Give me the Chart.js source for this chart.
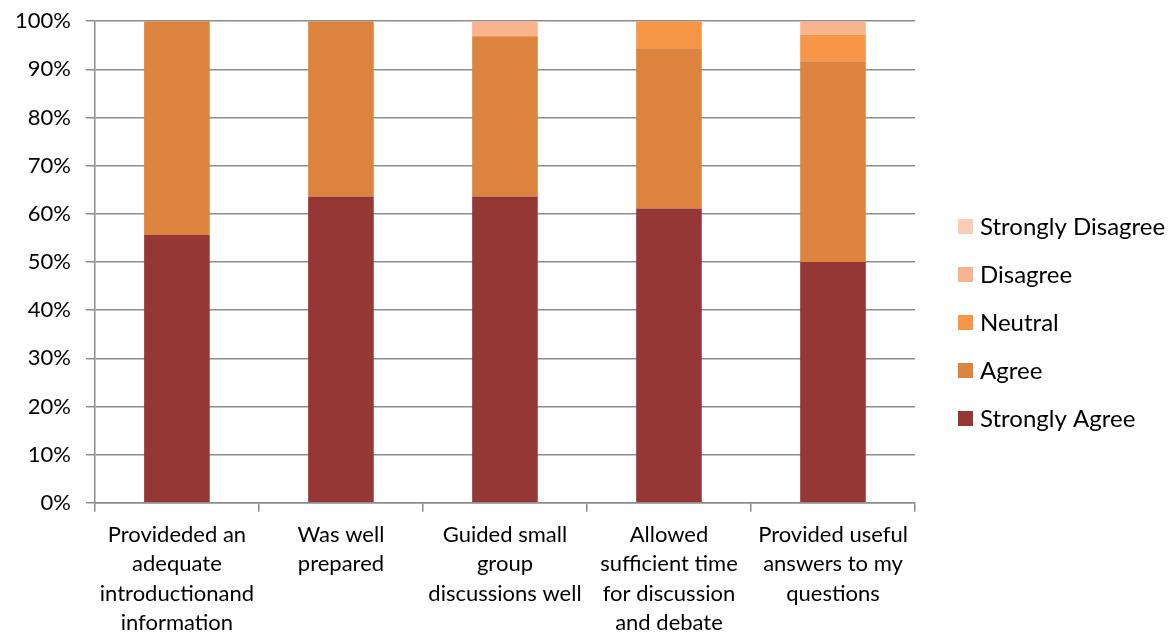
<!DOCTYPE html>
<html>
<head>
<meta charset="utf-8">
<script src="https://cdn.jsdelivr.net/npm/chart.js@4.4.1/dist/chart.umd.min.js"></script>
<style>
    html, body { margin: 0; padding: 0; background: #ffffff; overflow: hidden; }
    #wrap { width: 1176px; height: 634px; position: relative; overflow: hidden; }
    #surveyChart { position: absolute; left: 0; top: -7px; }
</style>
</head>
<body>
<div id="wrap"><canvas id="surveyChart" width="1176" height="653"></canvas></div>
<script>
// Survey responses, percent of respondents per statement
const categories = [
    ['Provideded an', 'adequate', 'introductionand', 'information'],
    ['Was well', 'prepared'],
    ['Guided small', 'group', 'discussions well'],
    ['Allowed', 'sufficient time', 'for discussion', 'and debate'],
    ['Provided useful', 'answers to my', 'questions']
];
const stronglyAgree = [55.6, 63.6, 63.6, 61.1, 50.0];
const agree = [44.4, 36.4, 33.3, 33.3, 41.7];
const neutral = [0, 0, 0, 5.6, 5.5];
const disagree = [0, 0, 3.1, 0, 2.8];
const stronglyDisagree = [0, 0, 0, 0, 0];
const yTicks = [0, 10, 20, 30, 40, 50, 60, 70, 80, 90, 100];

const gridColor = '#8c8c8c';
const fontFamily = 'Lato, "Open Sans", sans-serif';

function makeSet(label, data, color) {
    return {
        label: label,
        data: data,
        backgroundColor: color,
        borderWidth: 0,
        barPercentage: 0.4,
        categoryPercentage: 1.0
    };
}

// Legend on the right, top entry = last dataset (like the stacked order)
const sideLegend = {
    id: 'sideLegend',
    afterDraw(chart) {
        const ctx = chart.ctx;
        const sets = chart.data.datasets.slice().reverse();
        ctx.save();
        ctx.font = '24px ' + fontFamily;
        ctx.textBaseline = 'middle';
        ctx.textAlign = 'left';
        sets.forEach((ds, i) => {
            const y = 233 + i * 48;
            ctx.fillStyle = ds.backgroundColor;
            ctx.fillRect(958, y - 7, 15, 15);
            ctx.fillStyle = '#000000';
            ctx.fillText(ds.label, 980, y + 1);
        });
        ctx.restore();
    }
};

new Chart(document.getElementById('surveyChart').getContext('2d'), {
    type: 'bar',
    data: {
        labels: categories,
        datasets: [
            makeSet('Strongly Agree', stronglyAgree, '#953735'),
            makeSet('Agree', agree, '#dc843d'),
            makeSet('Neutral', neutral, '#f79646'),
            makeSet('Disagree', disagree, '#f9b48e'),
            makeSet('Strongly Disagree', stronglyDisagree, '#fccdb6')
        ]
    },
    plugins: [sideLegend],
    options: {
        responsive: false,
        maintainAspectRatio: false,
        animation: false,
        devicePixelRatio: 1,
        layout: { padding: { top: 0, left: 0, right: 261, bottom: 0 } },
        plugins: {
            legend: { display: false },
            tooltip: { enabled: false }
        },
        scales: {
            x: {
                stacked: true,
                border: { display: true, color: gridColor, width: 1.5 },
                grid: {
                    offset: true,
                    drawOnChartArea: false,
                    drawTicks: true,
                    tickLength: 9,
                    color: gridColor,
                    lineWidth: 1.5
                },
                ticks: {
                    color: '#000000',
                    maxRotation: 0,
                    autoSkip: false,
                    padding: 9,
                    font: { family: fontFamily, size: 22, lineHeight: 1.32 }
                }
            },
            y: {
                stacked: true,
                min: 0,
                max: 100,
                border: { display: true, color: gridColor, width: 1.5 },
                grid: {
                    color: gridColor,
                    lineWidth: 1.5,
                    tickLength: 9
                },
                afterBuildTicks: function(axis) {
                    axis.ticks = yTicks.map(v => ({ value: v }));
                },
                ticks: {
                    color: '#000000',
                    padding: 15,
                    callback: function(value) { return value + '%'; },
                    font: { family: fontFamily, size: 22 }
                }
            }
        }
    }
});
</script>
</body>
</html>
